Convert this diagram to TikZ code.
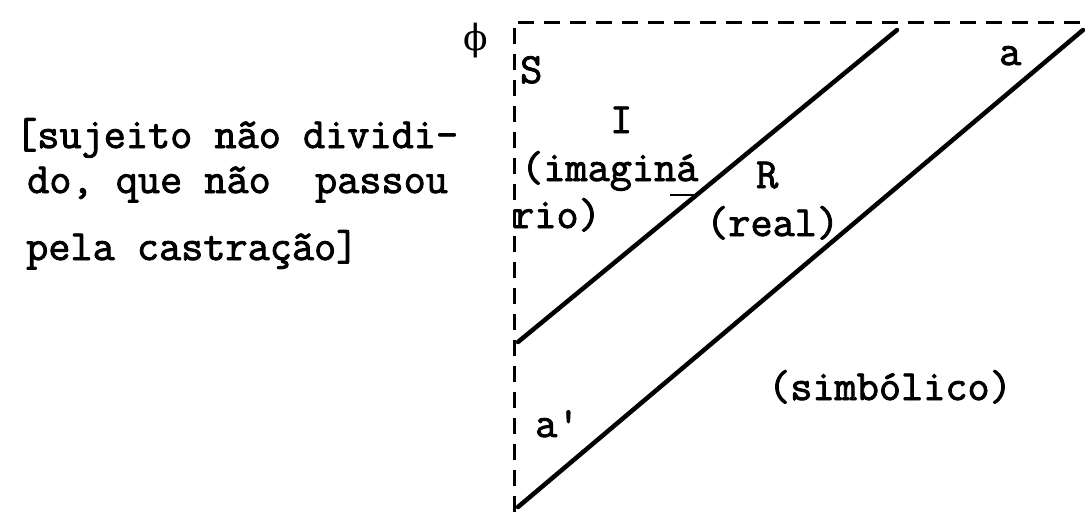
\documentclass[tikz,border=0pt]{standalone}
\usepackage{fontspec}
\newfontfamily\tw{Latin Modern Mono}[FakeBold=2,Ligatures=TeXOff]
\newfontfamily\grk{DejaVu Serif}
\begin{document}
\begin{tikzpicture}[x=1pt,y=-1pt,
  lbl/.style={inner sep=0pt,anchor=base west,font=\tw\fontsize{43}{46}\selectfont},
  frame/.style={line width=3pt,dash pattern=on 16pt off 10pt},
  diag/.style={line width=4.5pt,line cap=round}]
\useasboundingbox (0,0) rectangle (1085,512);
% frame
\coordinate (tl) at (514,22);
\coordinate (tr) at (1085,22);
\coordinate (bl) at (514,512);
\draw[frame] (bl) -- (tl) -- (tr);
% diagonals
\coordinate (u1) at (518,342);
\coordinate (u2) at (897,30);
\coordinate (r1) at (518,507);
\coordinate (r2) at (1083,30);
\draw[diag] (u1) -- (u2);
\draw[diag] (r1) -- (r2);
% left text
\node[lbl] (t1) at (15,148) {[sujeito não dividi-};
\node[lbl] (t2) at (27,193) {do, que não~~passou};
\node[lbl] (t3) at (26,260) {pela castração]};
% labels
\node[lbl,font=\grk\fontsize{36}{40}\selectfont] (phi) at (463,50) {ϕ};
\node[lbl] (S) at (520,83) {S};
\node[lbl] (I) at (610,133) {I};
\node[lbl] (im) at (521,181) {(imaginá};
\node[lbl] (rio) at (512,228) {rio)};
\coordinate (m1) at (670,195);
\coordinate (m2) at (697,195);
\draw[line width=2.5pt] (m1) -- (m2);
\node[lbl] (R) at (756,188) {R};
\node[lbl] (real) at (706,236) {(real)};
\node[lbl] (a) at (999,65) {a};
\node[lbl] (ap) at (535,437) {a'};
\node[lbl] (simb) at (768,400) {(simbólico)};
\end{tikzpicture}
\end{document}
